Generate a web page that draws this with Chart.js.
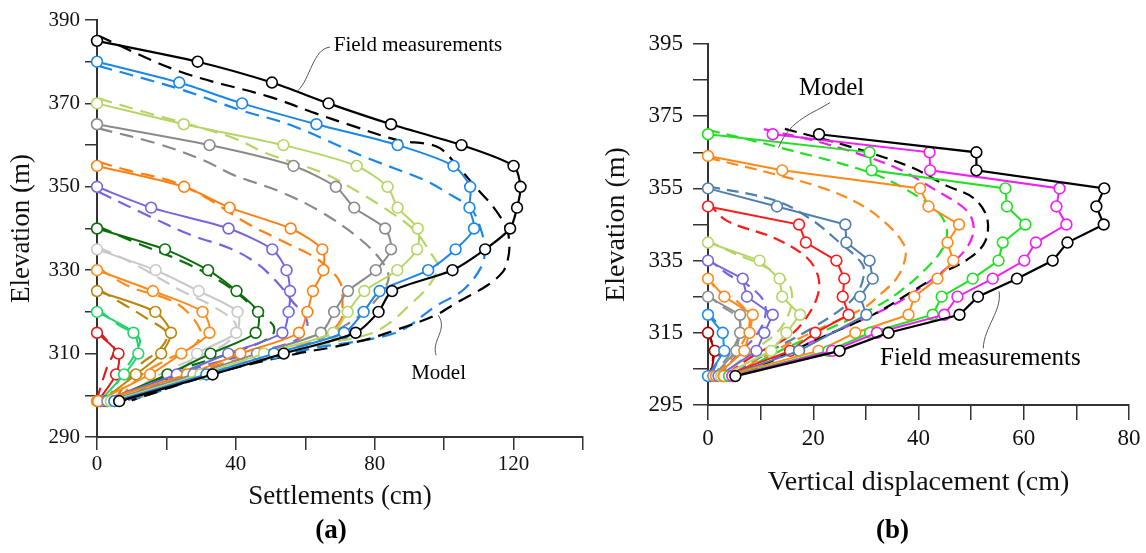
<!DOCTYPE html>
<html>
<head>
<meta charset="utf-8">
<script src="https://cdn.jsdelivr.net/npm/chart.js@4.4.1/dist/chart.umd.min.js"></script>
<style>
  body { margin: 0; background: #fff; width: 1146px; height: 553px; overflow: hidden; position: relative; }
  canvas { position: absolute; top: 0; }
  #chartA { left: 0; }
  #chartB { left: 600px; }
</style>
</head>
<body>
<canvas id="chartA" width="600" height="553"></canvas>
<canvas id="chartB" width="546" height="553"></canvas>
<script>
// ---- (a) Settlements: field measurements, [settlement cm, elevation m]
var aFieldBlack = [[0,385],[29,380],[50.4,375],[66.7,370],[84.7,365],[105,360],[120,355],[122,350],[121,345],[119,340],[111.8,335],[102.4,330],[85,325],[81.1,320],[74.5,315],[53.8,310],[33.3,305],[6.4,298.6]];
var aFieldBlue = [[0,380],[23.7,375],[41.8,370],[63.2,365],[86.6,360],[102.7,355],[107.5,350],[107.3,345],[108.6,340],[103.3,335],[95.4,330],[81.4,325],[76.8,320],[71.2,315],[51,310],[31.5,305],[5,298.6]];
var aFieldYellowGreen = [[0,370],[25,365],[53.7,360],[74.8,355],[83.7,350],[86.6,345],[92.4,340],[92.2,335],[86.5,330],[77,325],[72.2,320],[68,315],[48.1,310],[29.8,305],[4,298.6]];
var aFieldGray = [[0,365],[32.4,360],[56.6,355],[68.8,350],[74.1,345],[83,340],[84.7,335],[80.3,330],[72.3,325],[68.3,320],[64.5,315],[46.1,310],[27.8,305],[3,298.6]];
var aFieldOrange = [[0,355],[25.1,350],[38.2,345],[55.8,340],[64.9,335],[65.2,330],[62.2,325],[60.6,320],[58.2,315],[41.3,310],[25.9,305],[0.3,298.6]];
var aFieldPurple = [[0,350],[15.6,345],[37.9,340],[50.5,335],[54.6,330],[55.6,325],[55.2,320],[53.4,315],[37.8,310],[23,305],[1,298.6]];
var aFieldDarkGreen = [[0,340],[19.6,335],[32,330],[40.2,325],[46.4,320],[45.7,315],[32.7,310],[20.3,305],[2.5,298.6]];
var aFieldLightGray = [[0,335],[16.9,330],[29.3,325],[40.5,320],[40.1,315],[28.8,310],[23.5,305],[2,298.6]];
var aFieldOrange2 = [[0,330],[16.1,325],[30.4,320],[32.4,315],[24.3,310],[15.3,305],[0,298.6]];
var aFieldGoldenrod = [[0,325],[16.8,320],[21.3,315],[18.5,310],[11.2,305],[1.3,298.6]];
var aFieldSpring = [[0,320],[10.5,315],[11.9,310],[7.8,305],[0.8,298.6]];
var aFieldRed = [[0,315],[6.2,310],[5.5,305],[0.3,298.6]];

// ---- (a) model curves
var aModelBlack = [[0.4,386.2],[24,377.6],[50,371.5],[63,367.6],[73,364.8],[86.6,361.2],[98,359.6],[104,354.8],[109,350],[114.3,345],[118,340],[118.8,336],[118.3,332.4],[116.9,329.6],[112.5,326.4],[104,322.4],[97,319],[84.5,315.2],[78.6,313.6],[68.3,311.6],[57.7,310],[35,305.5],[10,298.8]];
var aModelBlue = [[0.4,379],[24,373.4],[41.3,368.4],[55.8,364.8],[77,357.2],[94.3,351.6],[101,348.5],[107.7,344.8],[110.5,340],[111.7,335],[110.7,330.8],[105.4,325.2],[97.2,321.2],[89.5,316.4],[83.8,314.4],[72,312.5],[62.4,311.3],[35,305.5],[10,298.8]];
var aModelYellowGreen = [[0.4,371.2],[13.4,368],[38.4,362],[49,358],[65.4,353.2],[76,348.4],[83.7,344.4],[91.4,339.6],[96.2,334],[98.2,330.8],[95.3,326],[89.5,321.2],[84.7,317.6],[78.9,314.8],[68.3,312.8],[55,310.5],[32,305.5],[10,298.8]];
var aModelGray = [[0.4,364],[17.2,360.4],[30.6,356.4],[39.4,352.8],[52.9,348.8],[64.5,344],[75,338],[81.8,332.4],[84,328],[80,322.5],[72,317],[58,311.5],[32,305.5],[10,298.8]];
var aModelOrange = [[0.4,356],[8.6,354],[22,351.2],[31,347.6],[43.3,341.2],[52.9,337.2],[62.5,333.2],[67.3,330],[70.2,326.8],[70.7,322],[70.2,318],[65,314],[50,310.5],[28,305.5],[10,298.8]];
var aModelPurple = [[0.4,348.8],[13.4,343.6],[26.9,338.5],[38.4,335.2],[46.1,331.6],[52,327],[56,322.8],[60.6,317.5],[58,313.5],[45,310.2],[25,305.5],[9,298.8]];
var aModelDarkGreen = [[0.4,340.5],[10,337],[25.9,331.6],[38,326],[48.1,318.8],[51,316.4],[50.1,314],[40,310.5],[22,305.5],[8,298.8]];
var aModelLightGray = [[0.4,335.5],[10.5,331.6],[24,325.2],[33.7,321.2],[40,317],[38,313],[30,309.5],[18,305],[7,298.8]];
var aModelOrange2 = [[0.4,330.5],[9.5,326],[23,322],[29.8,315.6],[28,312],[20,308.5],[13,305],[6,298.8]];
var aModelGoldenrod = [[0.4,325.5],[5.7,322.8],[14.4,318.4],[20.2,314.8],[18,311],[12,307],[5,298.8]];
var aModelSpring = [[0.4,320.5],[6,317],[12.2,313.6],[11,310],[8,306],[3,299]];
var aModelRed = [[0.4,315.5],[2.8,313.2],[5,311],[3,307],[0.3,300]];

// ---- (b) Vertical displacement: field measurements, [displacement cm, elevation m]
var bFieldBlack = [[21.1,370],[51,365],[51,360],[75.3,355],[73.8,350],[75.2,345],[68.3,340],[65.5,335],[58.7,330],[51.3,325],[47.8,320],[34.3,315],[25,310],[5.2,303]];
var bFieldMagenta = [[12.3,370],[42.1,365],[42.2,360],[66.8,355],[66.2,350],[68.1,345],[62.3,340],[60.1,335],[54.1,330],[47.4,325],[44.9,320],[32.1,315],[23.6,310],[4.6,303]];
var bFieldGreen = [[0,370],[30.7,365],[31.1,360],[56.5,355],[56.8,350],[60.3,345],[56,340],[55.2,335],[50.3,330],[44.4,325],[42.7,320],[30.8,315],[22.9,310],[4,303]];
var bFieldOrange = [[0,364],[14.1,360],[40.3,355],[41.9,350],[47.7,345],[45.5,340],[46.6,335],[43.6,330],[39.2,325],[38.1,320],[28,315],[21,310],[3,303]];
var bFieldSteel = [[0,355],[13.1,350],[26.1,345],[26.3,340],[30.7,335],[31.3,330],[28.9,325],[30.1,320],[17.3,310],[3.5,303]];
var bFieldRed = [[0,350],[17.3,345],[18.6,340],[24.4,335],[25.9,330],[25.6,325],[26.7,320],[20.4,315],[15.6,310],[3,303]];
var bFieldYellowGreen = [[0,340],[9.8,335],[13.6,330],[14.1,325],[17.5,320],[14.9,315],[12,310],[2.5,303]];
var bFieldPurple = [[0,335],[6.6,330],[7.4,325],[12.3,320],[10.7,315],[9.2,310],[2,303]];
var bFieldOrange2 = [[0,330],[3.1,325],[8.5,320],[7.9,315],[6.9,310],[1.5,303]];
var bFieldGray = [[0,325],[6.1,320],[6.1,315],[5.4,310],[1,303]];
var bFieldBlue = [[0,320],[2.8,315],[3.1,310],[0,303]];
var bFieldDarkRed = [[0,315],[1.3,310],[0.5,303]];

// ---- (b) model curves
var bModelBlack = [[14.6,371.5],[26,367],[38.4,361],[45.4,355.7],[50.4,352.4],[53,347],[52.7,340.4],[49.8,335.8],[44.1,331.2],[38.4,326.1],[31.5,320.1],[22,314],[14,308.5],[6,303]];
var bModelMagenta = [[10.6,371.4],[22,367.5],[35.3,361],[43.5,354.3],[49.2,348.8],[50.5,344],[49.2,338.6],[45.4,333],[40.3,327.4],[35.3,322.8],[26,316.5],[15,309.5],[5.5,303]];
var bModelGreen = [[0,371.2],[13.7,366.3],[31.5,359],[40.3,352.4],[44.1,347.8],[45.4,343.2],[44.7,338.6],[41.6,333],[36.5,326.5],[31.5,321.9],[22,315.5],[13,309.5],[5,303]];
var bModelOrange = [[0,363.5],[12.5,359],[22,355],[28.9,350.6],[34,345.1],[37.2,339.5],[37.5,335.8],[35.9,330.2],[32.7,325.6],[29.6,321.9],[21,316],[12,309.5],[4.5,303]];
var bModelSteel = [[0,355.6],[13.1,351.5],[20,346],[25,340],[28.3,335.8],[29.6,333],[28.9,327.4],[26.4,322.8],[20,316.5],[12,310],[4,303]];
var bModelRed = [[0,351],[3.6,346],[12.5,341.3],[18.8,335.8],[21,330.2],[20.7,324.7],[18.2,318.2],[15,313.6],[9,309],[3,303]];
var bModelYellowGreen = [[0,340.5],[5,337],[9.9,334],[15,329.3],[16,324.7],[15,319.1],[12.7,314.5],[8,309.5],[2.5,303]];
var bModelPurple = [[0,335.5],[4,331],[7.4,328.4],[10.6,323.8],[10.8,319],[9,314],[6,309.5],[2,303]];
var bModelOrange2 = [[0,330.5],[1.7,327],[5.5,323.8],[7.8,319.6],[7.5,315],[5.5,310],[1.5,303]];
var bModelGray = [[0,325.5],[2.5,322.5],[5.8,319],[6,315],[4.5,310],[1,303]];
var bModelBlue = [[0,320.5],[2,317],[3,313.5],[2.5,309.5],[0.5,303]];
var bModelDarkRed = [[0,315.5],[0.8,312],[1,308.5],[0.3,303]];

var aColors = ['#000000','#1a86e8','#b5d666','#8a8a8a','#ff8010','#7466e0','#0b6e0b','#c9c9c9','#ff8a1a','#b8860b','#22d46a','#dd1c1c'];
var bColors = ['#000000','#f020f0','#22e022','#ff8a1a','#4f7fae','#ff1a1a','#b5d666','#7466e0','#ff8a1a','#8f8f8f','#1e8cf0','#a80000'];

var aField = [aFieldBlack, aFieldBlue, aFieldYellowGreen, aFieldGray, aFieldOrange, aFieldPurple, aFieldDarkGreen, aFieldLightGray, aFieldOrange2, aFieldGoldenrod, aFieldSpring, aFieldRed];
var aModel = [aModelBlack, aModelBlue, aModelYellowGreen, aModelGray, aModelOrange, aModelPurple, aModelDarkGreen, aModelLightGray, aModelOrange2, aModelGoldenrod, aModelSpring, aModelRed];
var bField = [bFieldBlack, bFieldMagenta, bFieldGreen, bFieldOrange, bFieldSteel, bFieldRed, bFieldYellowGreen, bFieldPurple, bFieldOrange2, bFieldGray, bFieldBlue, bFieldDarkRed];
var bModel = [bModelBlack, bModelMagenta, bModelGreen, bModelOrange, bModelSteel, bModelRed, bModelYellowGreen, bModelPurple, bModelOrange2, bModelGray, bModelBlue, bModelDarkRed];

var serif = '"Liberation Serif", "Times New Roman", serif';

function toPoints(arr) {
  return arr.map(p => ({x: p[0], y: p[1]}));
}

function buildDatasets(field, model, colors, fieldTension, dash) {
  var sets = [];
  field.forEach((arr, i) => {
    sets.push({
      data: toPoints(arr),
      showLine: true,
      borderColor: colors[i],
      borderWidth: i == 0 ? 2.2 : 2,
      pointRadius: 5.4,
      pointBorderWidth: 1.6,
      pointBackgroundColor: '#ffffff',
      pointBorderColor: colors[i],
      tension: fieldTension,
      clip: false
    });
  });
  model.forEach((arr, i) => {
    sets.push({
      data: toPoints(arr),
      showLine: true,
      borderColor: colors[i],
      borderWidth: 2.2,
      borderDash: dash,
      pointRadius: 0,
      tension: 0.35,
      clip: false
    });
  });
  return sets;
}

// text notes and the panel letter, placed in data units
function notesPlugin(notes, panel) {
  return {
    id: 'notes',
    afterDatasetsDraw(chart) {
      var ctx = chart.ctx, xs = chart.scales.x, ys = chart.scales.y;
      ctx.save();
      notes.forEach(n => {
        var p = n.leader.map(q => [xs.getPixelForValue(q[0]), ys.getPixelForValue(q[1])]);
        ctx.strokeStyle = '#555';
        ctx.lineWidth = 1;
        ctx.beginPath();
        ctx.moveTo(p[0][0], p[0][1]);
        ctx.bezierCurveTo(p[1][0], p[1][1], p[2][0], p[2][1], p[3][0], p[3][1]);
        ctx.stroke();
        ctx.fillStyle = '#000';
        ctx.font = n.size + 'px ' + serif;
        ctx.textAlign = 'left';
        ctx.textBaseline = 'middle';
        ctx.fillText(n.text, xs.getPixelForValue(n.x), ys.getPixelForValue(n.y));
      });
      var ca = chart.chartArea;
      ctx.font = 'bold 27px ' + serif;
      ctx.textAlign = 'center';
      ctx.textBaseline = 'middle';
      ctx.fillStyle = '#000';
      ctx.fillText(panel.text, (ca.left + ca.right) / 2 + panel.dx, panel.y);
      ctx.restore();
    }
  };
}

function makeChart(id, o) {
  return new Chart(document.getElementById(id), {
    type: 'scatter',
    data: { datasets: o.datasets },
    options: {
      responsive: false,
      animation: false,
      layout: { padding: o.padding },
      plugins: { legend: { display: false }, tooltip: { enabled: false } },
      scales: {
        x: {
          type: 'linear', min: o.xMin, max: o.xMax,
          afterFit: s => { s.height = o.xHeight; },
          border: { display: true, color: '#333', width: 2 },
          grid: { drawOnChartArea: false, drawTicks: true, tickLength: o.xTick, color: '#333', lineWidth: 1.5 },
          ticks: {
            stepSize: o.xStep, autoSkip: false, maxRotation: 0, padding: o.xPad, color: '#111',
            font: { family: serif, size: o.tickSize },
            callback: v => (v % o.xLabelStep === 0 ? v : '')
          },
          title: { display: true, text: o.xTitle, color: '#111', font: { family: serif, size: o.titleSize }, padding: { top: 0, bottom: o.xTitlePad } }
        },
        y: {
          type: 'linear', min: o.yMin, max: o.yMax,
          afterFit: s => { s.width = o.yWidth; },
          border: { display: true, color: '#333', width: 2 },
          grid: { drawOnChartArea: false, drawTicks: true, tickLength: o.yTick, color: '#333', lineWidth: 1.5 },
          ticks: {
            stepSize: 10, autoSkip: false, padding: o.yPad, color: '#111',
            font: { family: serif, size: o.tickSize },
            callback: v => ((v - o.yMin) % 20 === 0 ? v : '')
          },
          title: { display: true, text: 'Elevation (m)', color: '#111', font: { family: serif, size: o.titleSize }, padding: { top: o.yTitlePad, bottom: 0 } }
        }
      }
    },
    plugins: [notesPlugin(o.notes, o.panel)]
  });
}

makeChart('chartA', {
  datasets: buildDatasets(aField, aModel, aColors, 0.25, [14, 8]),
  padding: { left: 0, top: 20, right: 17, bottom: 0 },
  xMin: 0, xMax: 140, xStep: 20, xLabelStep: 40, xHeight: 116, xTick: 13, xPad: 2,
  xTitle: 'Settlements (cm)', xTitlePad: 40,
  yMin: 290, yMax: 390, yWidth: 97, yTick: 12, yPad: 5, yTitlePad: 6,
  tickSize: 21, titleSize: 27,
  notes: [
    { text: 'Field measurements', size: 21, x: 68.2, y: 383.8, leader: [[67.1,383.5],[62.1,383],[61.6,376],[57.8,373]] },
    { text: 'Model', size: 21, x: 90.5, y: 305.3, leader: [[98.3,319.2],[101.2,315.6],[96.2,313.2],[97.7,309.6]] }
  ],
  panel: { text: '(a)', dx: -9, y: 531 }
});

makeChart('chartB', {
  datasets: buildDatasets(bField, bModel, bColors, 0, [12, 7]),
  padding: { left: 0, top: 44, right: 17, bottom: 0 },
  xMin: 0, xMax: 80, xStep: 10, xLabelStep: 20, xHeight: 148, xTick: 15, xPad: 5,
  xTitle: 'Vertical displacement (cm)', xTitlePad: 54,
  yMin: 295, yMax: 395, yWidth: 108, yTick: 15, yPad: 10, yTitlePad: 0,
  tickSize: 23, titleSize: 28,
  notes: [
    { text: 'Model', size: 25, x: 17.3, y: 382.6, leader: [[23.2,378.8],[20.4,376],[15.6,374.3],[13.4,366.3]] },
    { text: 'Field measurements', size: 25, x: 32.7, y: 307.9, leader: [[55.3,326.5],[55.9,321],[52.5,316.8],[52.3,310.7]] }
  ],
  panel: { text: '(b)', dx: -26, y: 531 }
});
</script>
</body>
</html>
